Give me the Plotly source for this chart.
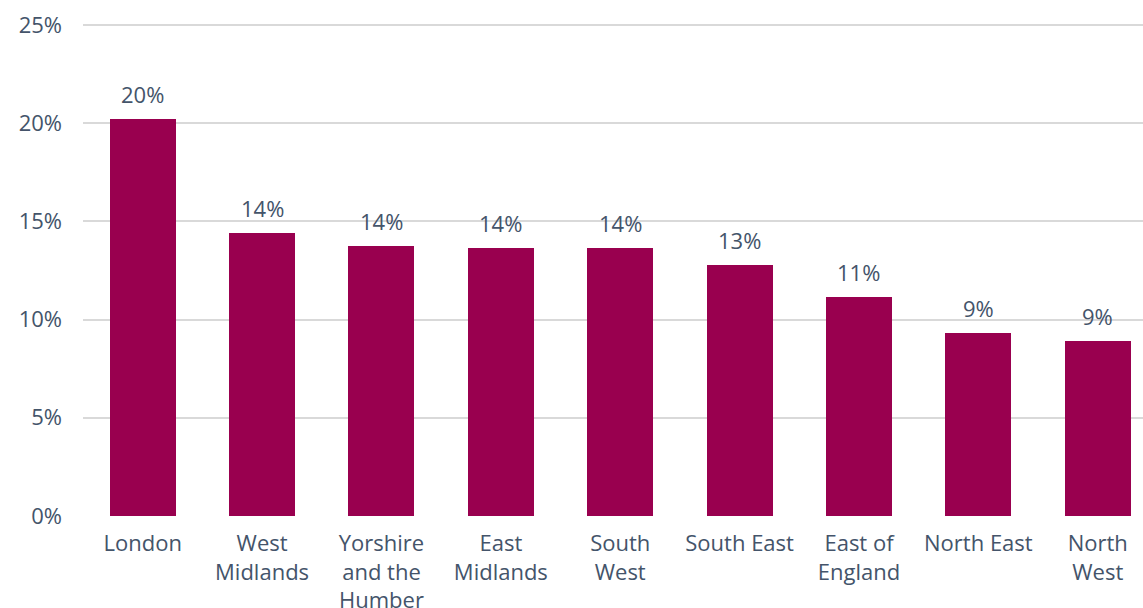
import plotly.graph_objects as go

categories = ["London", "West<br>Midlands", "Yorshire<br>and the<br>Humber", "East<br>Midlands",
              "South<br>West", "South East", "East of<br>England", "North East", "North<br>West"]
values = [20.2, 14.4, 13.76, 13.67, 13.63, 12.8, 11.15, 9.32, 8.93]
y_ticks = [0, 5, 10, 15, 20, 25]
y_tick_labels = ["0%", "5%", "10%", "15%", "20%", "25%"]

TEXT = "#44546a"
FONT = "Open Sans"
FS = 22

fig = go.Figure()
fig.add_trace(go.Bar(
    x=categories, y=values, width=0.553,
    marker=dict(color="#99004f", line=dict(width=0)),
    showlegend=False, hoverinfo="skip",
))
for c, v in zip(categories, values):
    fig.add_annotation(x=c, y=v, text=f"{round(v)}%", showarrow=False,
                       yanchor="bottom", yshift=8,
                       font=dict(family=FONT, size=FS, color=TEXT))

fig.update_layout(
    width=1143, height=608,
    margin=dict(l=82.5, r=0, t=23, b=92),
    paper_bgcolor="white", plot_bgcolor="white",
    font=dict(family=FONT, size=FS, color=TEXT),
    bargap=0,
)
fig.update_xaxes(
    type="category", range=[-0.5, 8.379], automargin=False,
    showgrid=False, zeroline=False, showline=False,
    ticks="", ticklabelstandoff=12,
    tickfont=dict(family=FONT, size=FS, color=TEXT),
)
fig.update_yaxes(
    range=[0, 25.1], tickvals=y_ticks, ticktext=y_tick_labels, automargin=False,
    showgrid=True, gridcolor="#d9d9d9", gridwidth=1.5,
    zeroline=False, showline=False, ticks="",
    ticklabelstandoff=20,
    tickfont=dict(family=FONT, size=FS, color=TEXT),
)
fig.write_html("out.html")
